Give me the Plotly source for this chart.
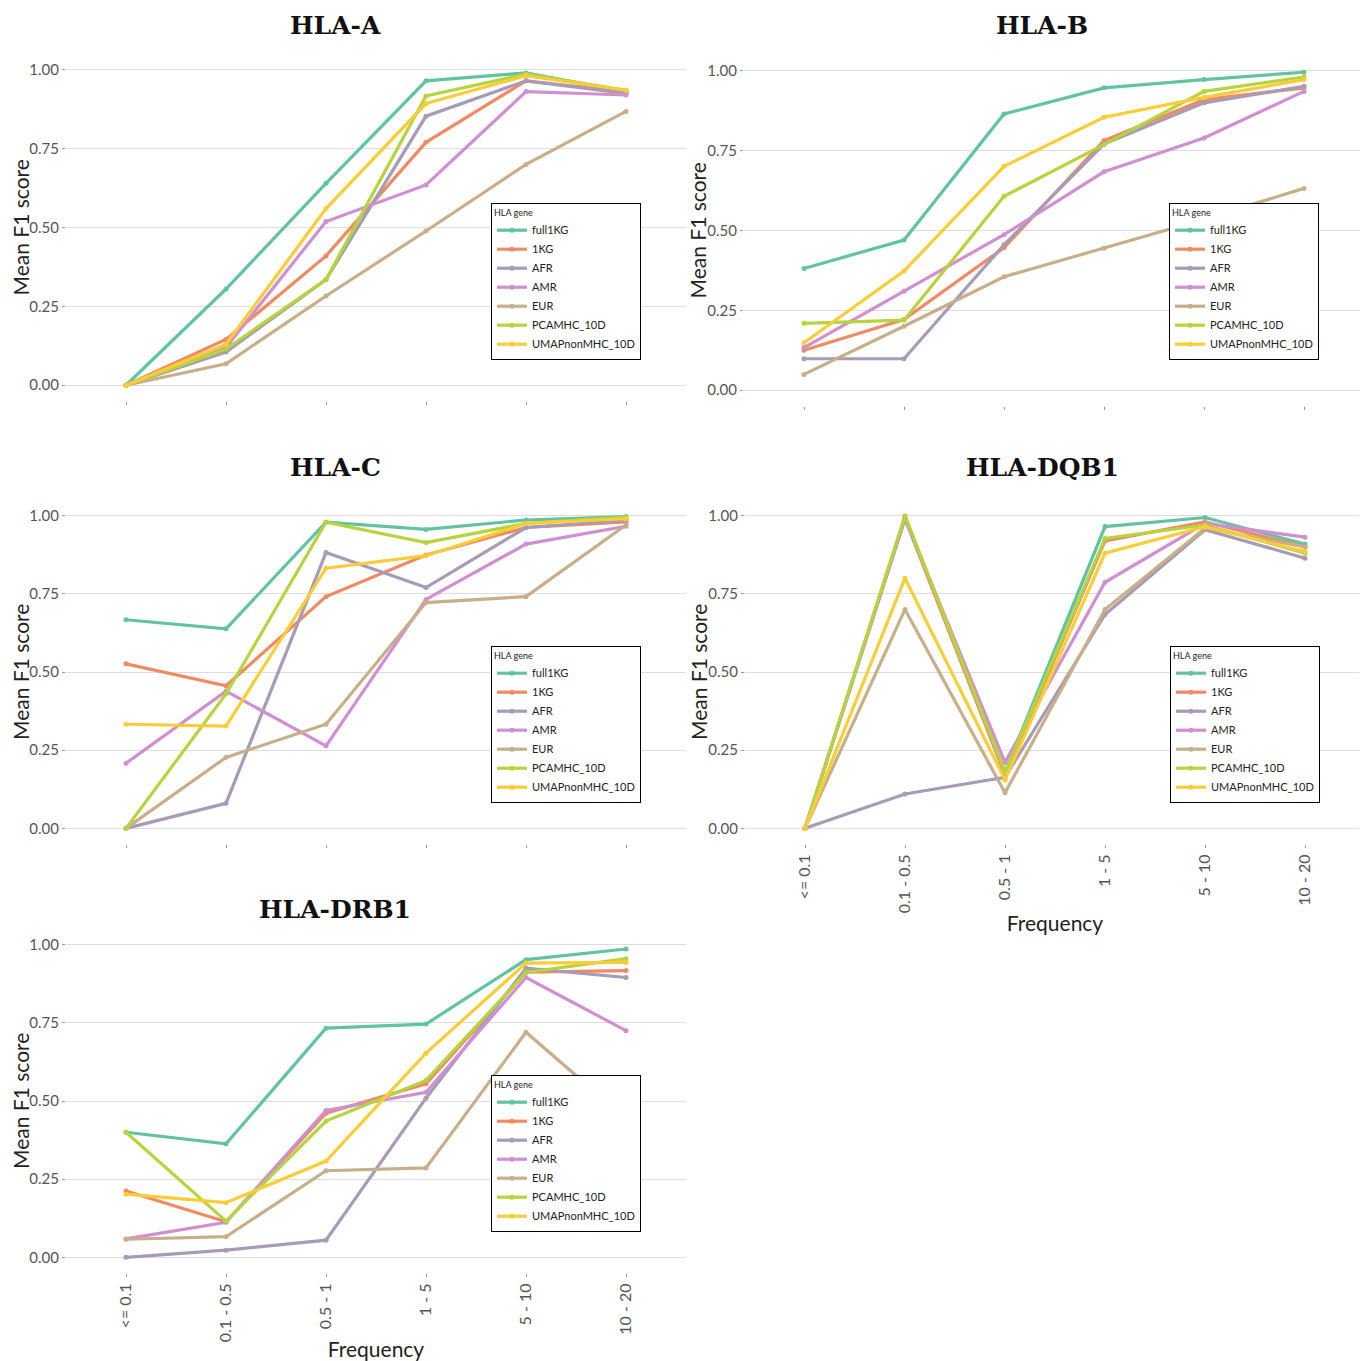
import plotly.graph_objects as go

categories = ["<= 0.1", "0.1 - 0.5", "0.5 - 1", "1 - 5", "5 - 10", "10 - 20"]
series_names = ["full1KG", "1KG", "AFR", "AMR", "EUR", "PCAMHC_10D", "UMAPnonMHC_10D"]
series_colors = ["#62C3A1", "#EE8B63", "#A79BB5", "#CF8FD1", "#C7AF89", "#B6D43C", "#F9CD38"]
y_ticks = [0.0, 0.25, 0.5, 0.75, 1.0]
y_tick_labels = ["0.00", "0.25", "0.50", "0.75", "1.00"]

hla_a = {
    "full1KG":        [0.0, 0.305, 0.64, 0.965, 0.99, 0.93],
    "1KG":            [0.0, 0.145, 0.41, 0.77, 0.965, 0.93],
    "AFR":            [0.0, 0.105, 0.335, 0.853, 0.965, 0.925],
    "AMR":            [0.0, 0.12, 0.519, 0.635, 0.931, 0.92],
    "EUR":            [0.0, 0.068, 0.283, 0.489, 0.70, 0.868],
    "PCAMHC_10D":     [0.0, 0.115, 0.335, 0.917, 0.986, 0.935],
    "UMAPnonMHC_10D": [0.0, 0.13, 0.56, 0.893, 0.981, 0.935],
}
hla_b = {
    "full1KG":        [0.381, 0.47, 0.865, 0.947, 0.973, 0.996],
    "1KG":            [0.125, 0.221, 0.446, 0.782, 0.91, 0.947],
    "AFR":            [0.098, 0.098, 0.455, 0.771, 0.90, 0.952],
    "AMR":            [0.133, 0.31, 0.487, 0.684, 0.79, 0.936],
    "EUR":            [0.049, 0.20, 0.355, 0.444, 0.535, 0.632],
    "PCAMHC_10D":     [0.209, 0.219, 0.607, 0.769, 0.936, 0.981],
    "UMAPnonMHC_10D": [0.148, 0.373, 0.701, 0.855, 0.917, 0.973],
}
hla_c = {
    "full1KG":        [0.667, 0.638, 0.979, 0.956, 0.986, 0.997],
    "1KG":            [0.526, 0.456, 0.741, 0.874, 0.962, 0.98],
    "AFR":            [0.0, 0.08, 0.882, 0.77, 0.962, 0.985],
    "AMR":            [0.208, 0.439, 0.264, 0.732, 0.909, 0.966],
    "EUR":            [0.0, 0.227, 0.333, 0.722, 0.741, 0.97],
    "PCAMHC_10D":     [0.0, 0.43, 0.979, 0.914, 0.975, 0.995],
    "UMAPnonMHC_10D": [0.333, 0.327, 0.832, 0.872, 0.975, 0.99],
}
hla_dqb1 = {
    "full1KG":        [0.0, 0.995, 0.18, 0.965, 0.994, 0.909],
    "1KG":            [0.0, 0.99, 0.17, 0.919, 0.98, 0.90],
    "AFR":            [0.0, 0.11, 0.163, 0.684, 0.955, 0.864],
    "AMR":            [0.0, 0.99, 0.211, 0.787, 0.975, 0.931],
    "EUR":            [0.0, 0.70, 0.114, 0.70, 0.96, 0.90],
    "PCAMHC_10D":     [0.0, 1.0, 0.18, 0.927, 0.97, 0.88],
    "UMAPnonMHC_10D": [0.0, 0.80, 0.155, 0.88, 0.965, 0.885],
}
hla_drb1 = {
    "full1KG":        [0.40, 0.363, 0.733, 0.746, 0.952, 0.986],
    "1KG":            [0.212, 0.114, 0.461, 0.555, 0.912, 0.917],
    "AFR":            [0.0, 0.023, 0.055, 0.509, 0.925, 0.895],
    "AMR":            [0.059, 0.112, 0.47, 0.528, 0.895, 0.725],
    "EUR":            [0.058, 0.066, 0.277, 0.286, 0.72, 0.443],
    "PCAMHC_10D":     [0.40, 0.116, 0.436, 0.566, 0.911, 0.955],
    "UMAPnonMHC_10D": [0.202, 0.175, 0.308, 0.653, 0.941, 0.943],
}

OFF = 8  # page body margin
W, H = 1367 - OFF, 1361 - OFF
TICK_FONT = "Lato, 'Open Sans', sans-serif"
TITLE_FONT = "'DejaVu Serif', serif"


def px_x(v):
    return (v - OFF) / W


def px_y(v):
    return 1 - (v - OFF) / H


# (title, data, x0, x1, ytop, ybottom, legend left, legend top, title cx, title cy, ytitle cx, show x labels)
panels = [
    ("HLA-A",    hla_a,    66, 686, 54, 401, 491, 203, 335, 25, 20, False),
    ("HLA-B",    hla_b,    744, 1364, 55, 406, 1169, 203, 1042, 25, 697, False),
    ("HLA-C",    hla_c,    66, 686, 500, 844, 491, 646, 335, 467, 20, False),
    ("HLA-DQB1", hla_dqb1, 745, 1365, 500, 844, 1170, 646, 1042, 467, 698, True),
    ("HLA-DRB1", hla_drb1, 66, 686, 929, 1273, 491, 1075, 335, 909, 20, True),
]

fig = go.Figure()
layout = dict(
    width=W, height=H, margin=dict(l=0, r=0, t=0, b=0),
    paper_bgcolor="white", plot_bgcolor="white",
    font=dict(family=TICK_FONT, color="#4D4D4D"),
    annotations=[],
)

for i, (title, data, x0, x1, yt, yb, lx, ly, tcx, tcy, ytx, show_x) in enumerate(panels):
    n = i + 1
    xa = "x" if n == 1 else f"x{n}"
    ya = "y" if n == 1 else f"y{n}"
    leg = "legend" if n == 1 else f"legend{n}"
    for name, color in zip(series_names, series_colors):
        fig.add_trace(go.Scatter(
            x=categories, y=data[name], name=name, mode="lines+markers",
            line=dict(color=color, width=3.2), marker=dict(color=color, size=5),
            xaxis=xa, yaxis=ya, legend=leg, showlegend=True,
        ))
    layout[f"xaxis{n}"] = dict(
        domain=[px_x(x0), min(px_x(x1), 1.0)], anchor=ya, type="category",
        categoryorder="array", categoryarray=categories,
        range=[-0.6, 5.6], showgrid=False, zeroline=False, showline=False,
        ticks="outside", ticklen=3, tickcolor="#999999",
        showticklabels=show_x, tickangle=-90,
        tickfont=dict(size=16, color="#555555", family=TICK_FONT),
        title=dict(text="Frequency" if show_x else "", font=dict(size=21, color="#222222"), standoff=4),
    )
    layout[f"yaxis{n}"] = dict(
        domain=[px_y(yb), px_y(yt)], anchor=xa,
        range=[-0.05, 1.05], tickvals=y_ticks, ticktext=y_tick_labels,
        showgrid=True, gridcolor="#DDDDDD", gridwidth=1, zeroline=False, showline=False,
        ticks="outside", ticklen=3, tickcolor="#999999",
        tickfont=dict(size=15, color="#555555", family=TICK_FONT),
    )
    layout[leg] = dict(
        x=px_x(lx), y=px_y(ly), xanchor="left", yanchor="top",
        xref="paper", yref="paper",
        bgcolor="white", bordercolor="black", borderwidth=1,
        font=dict(size=11, color="#222222", family=TICK_FONT),
        title=dict(text="HLA gene", font=dict(size=9, color="#222222")),
        itemwidth=30, tracegroupgap=0,
    )
    layout["annotations"].append(dict(
        text=f"<b>{title}</b>", x=px_x(tcx), y=px_y(tcy),
        xref="paper", yref="paper", xanchor="center", yanchor="middle",
        showarrow=False, font=dict(size=25, color="#111111", family=TITLE_FONT),
    ))
    layout["annotations"].append(dict(
        text="Mean F1 score", x=px_x(ytx), y=px_y((yt + yb) / 2),
        xref="paper", yref="paper", xanchor="center", yanchor="middle",
        textangle=-90, showarrow=False,
        font=dict(size=21, color="#222222", family=TICK_FONT),
    ))

fig.update_layout(**layout)
fig.write_html("out.html")
